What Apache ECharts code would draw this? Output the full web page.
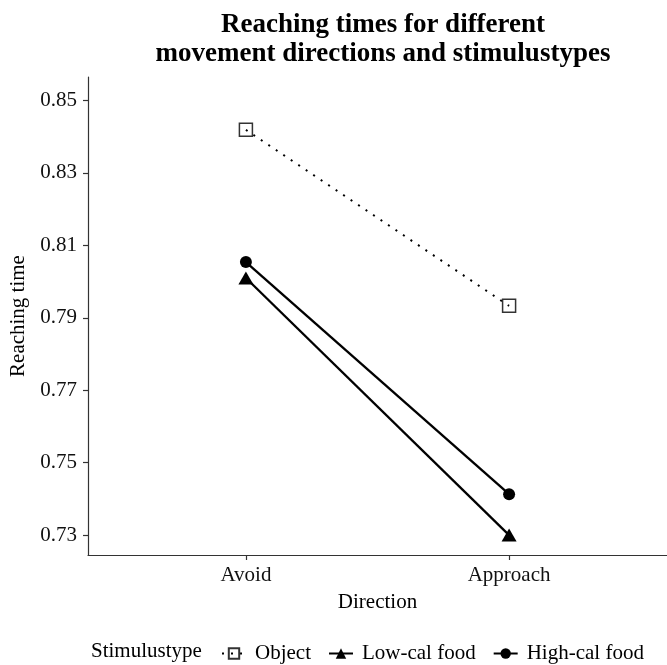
<!DOCTYPE html>
<html>
<head>
<meta charset="utf-8">
<script src="https://cdn.jsdelivr.net/npm/echarts@6/dist/echarts.min.js"></script>
<style>html,body{margin:0;padding:0;background:#fff}#c{width:667px;height:665px}</style>
</head>
<body>
<div id="c"></div>
<script>
const directions = ['Avoid', 'Approach'];
const stimulusTypes = ['Object', 'Low-cal food', 'High-cal food'];
const objectTimes = [0.8419, 0.7933];
const lowCalTimes = [0.8010, 0.7300];
const highCalTimes = [0.8054, 0.7413];
const yTicks = [0.73, 0.75, 0.77, 0.79, 0.81, 0.83, 0.85];

const FONT = '"Liberation Serif", "DejaVu Serif", serif';
const pos = directions.map((d, i) => i + 1);
const toData = vals => vals.map((v, i) => [pos[i], v]);

const chart = echarts.init(document.getElementById('c'), null, {renderer: 'canvas'});
chart.setOption({
  animation: false,
  backgroundColor: '#fff',
  textStyle: {fontFamily: FONT, color: '#000'},
  title: [{
    text: 'Reaching times for different\nmovement directions and stimulustypes',
    left: 378, top: 6, textAlign: 'center',
    textStyle: {fontFamily: FONT, fontWeight: 'bold', fontSize: 27, lineHeight: 29, color: '#000'}
  }, {
    text: 'Stimulustype',
    left: 86, top: 636,
    textStyle: {fontFamily: FONT, fontWeight: 'normal', fontSize: 21, color: '#000'}
  }],
  grid: {left: 88, right: 0, top: 77, bottom: 110, containLabel: false},
  xAxis: {
    type: 'value', min: 0.4, max: 2.6,
    name: 'Direction', nameLocation: 'middle', nameGap: 37,
    nameTextStyle: {fontFamily: FONT, fontSize: 21, color: '#000'},
    axisLine: {show: true, lineStyle: {color: '#333', width: 1.2}},
    axisTick: {show: true, length: 5, customValues: pos, lineStyle: {color: '#333', width: 1.2}},
    axisLabel: {customValues: pos, fontFamily: FONT, fontSize: 21, color: '#111', margin: 10,
      formatter: v => directions[Math.round(v) - 1] || ''},
    splitLine: {show: false}
  },
  yAxis: {
    type: 'value', min: 0.7245, max: 0.8565,
    name: 'Reaching time', nameLocation: 'middle', nameGap: 56, nameRotate: 90,
    nameTextStyle: {fontFamily: FONT, fontSize: 21, color: '#000'},
    axisLine: {show: true, lineStyle: {color: '#333', width: 1.2}},
    axisTick: {show: true, length: 5, customValues: yTicks, lineStyle: {color: '#333', width: 1.2}},
    axisLabel: {customValues: yTicks, fontFamily: FONT, fontSize: 21, color: '#111', margin: 11,
      formatter: v => v.toFixed(2)},
    splitLine: {show: false}
  },
  legend: {
    data: stimulusTypes,
    left: 216, top: 638,
    itemWidth: 24, itemHeight: 13, itemGap: 17,
    textStyle: {fontFamily: FONT, fontSize: 21, color: '#000', padding: [0, 0, 0, 4]}
  },
  series: [{
    name: stimulusTypes[0], type: 'line', data: toData(objectTimes),
    symbol: 'rect', symbolSize: 13,
    lineStyle: {color: '#000', width: 2, type: [2, 7]},
    itemStyle: {color: 'rgba(0,0,0,0)', borderColor: '#333', borderWidth: 1.5}
  }, {
    name: stimulusTypes[1], type: 'line', data: toData(lowCalTimes),
    symbol: 'triangle', symbolSize: [15, 13],
    lineStyle: {color: '#000', width: 2.3},
    itemStyle: {color: '#000'}
  }, {
    name: stimulusTypes[2], type: 'line', data: toData(highCalTimes),
    symbol: 'circle', symbolSize: 12,
    lineStyle: {color: '#000', width: 2.3},
    itemStyle: {color: '#000'}
  }]
});
</script>
</body>
</html>
